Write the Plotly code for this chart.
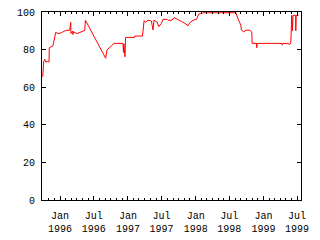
import plotly.graph_objects as go

dates = [
    "1995-09-30", "1995-10-02", "1995-10-05", "1995-10-11", "1995-10-16", "1995-10-27",
    "1995-11-03", "1995-11-04", "1995-11-17", "1995-11-24", "1995-12-09", "1995-12-21",
    "1996-01-09", "1996-02-01", "1996-02-22", "1996-02-28", "1996-02-29", "1996-03-08",
    "1996-03-11", "1996-03-13", "1996-04-02", "1996-04-25", "1996-05-13", "1996-05-17",
    "1996-09-03", "1996-09-10", "1996-09-29", "1996-10-18", "1996-12-05", "1996-12-08",
    "1996-12-10", "1996-12-16", "1996-12-19", "1997-02-05", "1997-02-06", "1997-03-20",
    "1997-03-23", "1997-03-29", "1997-04-05", "1997-04-19", "1997-05-07", "1997-05-16",
    "1997-05-21", "1997-06-07", "1997-06-16", "1997-06-21", "1997-06-30", "1997-07-09",
    "1997-07-31", "1997-08-05", "1997-08-26", "1997-09-06", "1997-09-28", "1997-10-16",
    "1997-11-03", "1997-11-21", "1997-11-30", "1997-12-18", "1998-01-05", "1998-01-17",
    "1998-02-06", "1998-02-09", "1998-08-05", "1998-08-12", "1998-08-21", "1998-09-01",
    "1998-09-04", "1998-09-17", "1998-09-28", "1998-10-19", "1998-10-30", "1998-11-01",
    "1998-11-25", "1998-11-26", "1998-11-27", "1999-04-11", "1999-04-12", "1999-04-16",
    "1999-05-17", "1999-05-19", "1999-05-28", "1999-06-02", "1999-06-06", "1999-06-09",
    "1999-06-23", "1999-06-24", "1999-06-26", "1999-07-08",
]
values = [
    65.6, 71.8, 73.6, 74.8, 73.4, 73.6,
    73.5, 81.0, 81.4, 82.0, 89.2, 88.5,
    89.0, 90.2, 90.3, 94.5, 88.6, 89.9,
    88.0, 89.5, 88.5, 89.7, 90.2, 95.6,
    75.4, 79.8, 81.6, 83.3, 83.3, 78.5,
    83.0, 76.2, 86.5, 86.5, 87.2, 87.2,
    89.9, 95.4, 94.5, 95.6, 95.2, 90.4,
    95.6, 94.7, 92.2, 92.7, 94.0, 96.1,
    96.1, 95.6, 95.6, 97.0, 96.1, 95.0,
    94.0, 92.7, 94.3, 95.6, 96.1, 98.9,
    99.3, 99.6, 99.6, 97.5, 95.4, 93.0,
    90.4, 89.4, 90.3, 90.3, 89.4, 83.3,
    83.3, 81.0, 83.3, 83.3, 82.4, 83.3,
    83.3, 82.6, 83.3, 98.2, 90.0, 98.2,
    98.2, 90.0, 98.2, 98.2,
]

tick_dates = ["1996-01-01", "1996-07-01", "1997-01-01", "1997-07-01",
              "1998-01-01", "1998-07-01", "1999-01-01", "1999-07-01"]
tick_labels = ["Jan<br>1996", "Jul<br>1996", "Jan<br>1997", "Jul<br>1997",
               "Jan<br>1998", "Jul<br>1998", "Jan<br>1999", "Jul<br>1999"]
y_ticks = [0, 20, 40, 60, 80, 100]

fig = go.Figure()
fig.add_trace(go.Scatter(x=dates, y=values, mode="lines",
                         line=dict(color="#ff0000", width=1), showlegend=False))

font = dict(family="Liberation Mono, DejaVu Sans Mono, monospace", size=10, color="black")

fig.update_layout(
    width=320, height=240,
    margin=dict(l=42, r=19, t=12, b=40),
    paper_bgcolor="white", plot_bgcolor="white",
    font=font,
    xaxis=dict(
        type="date", range=["1995-09-26", "1999-07-22"],
        tickvals=tick_dates, ticktext=tick_labels,
        ticks="inside", ticklen=4, tickcolor="black", tickwidth=1,
        minor=dict(ticks="inside", ticklen=2, dtick="M1", tickcolor="black", showgrid=False),
        showline=True, linecolor="black", linewidth=1, mirror="ticks",
        showgrid=False, zeroline=False, tickfont=font, ticklabelstandoff=6,
        automargin=False,
    ),
    yaxis=dict(
        range=[0, 100], tickvals=y_ticks,
        ticks="inside", ticklen=4, tickcolor="black", tickwidth=1,
        showline=True, linecolor="black", linewidth=1, mirror="ticks",
        showgrid=False, zeroline=False, tickfont=font, ticklabelstandoff=4,
        automargin=False,
    ),
)

fig.write_html("out.html")
